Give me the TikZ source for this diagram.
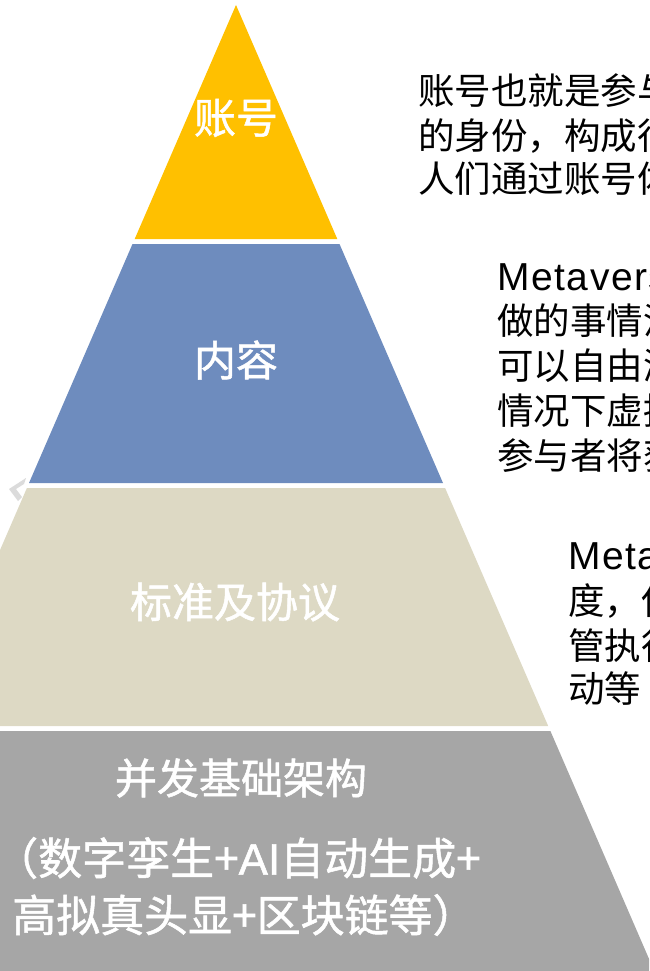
\documentclass[tikz,border=0pt]{standalone}
\usepackage{fontspec}
\setmainfont{Noto Sans CJK SC}
\newfontfamily\cjkb[FakeBold=1.2]{Noto Sans CJK SC}
\newfontfamily\lat[LetterSpace=4]{Liberation Sans}
\newfontfamily\latl[FakeBold=1.2]{Liberation Sans}
\definecolor{cyel}{HTML}{FFC000}
\definecolor{cblu}{HTML}{6E8CBE}
\definecolor{cbei}{HTML}{DDD9C4}
\definecolor{cgry}{HTML}{A6A6A6}
\begin{document}
\begin{tikzpicture}[x=1pt,y=-1pt,
  lab/.style={text=white,inner sep=0pt,font=\fontsize{42}{50}\selectfont\cjkb},
  bigl/.style={text=white,inner sep=0pt,anchor=west,font=\fontsize{44}{52}\selectfont\cjkb},
  desc/.style={text=black,inner sep=0pt,anchor=base west,font=\fontsize{36.5}{44}\selectfont},
  lati/.style={text=black,inner sep=0pt,anchor=base west,font=\fontsize{39}{44}\selectfont\lat}]
\useasboundingbox (0,0) rectangle (649,971);
\clip (0,0) rectangle (649,971);
% layers
\fill[cyel] (236,5) -- (134.7,239) -- (337.3,239) -- cycle;
\fill[cblu] (132.5,244) -- (339.5,244) -- (443,483) -- (29,483) -- cycle;
\fill[cbei] (26.9,488) -- (445.1,488) -- (548.2,726) -- (-76.2,726) -- cycle;
\fill[cgry] (-78.4,731) -- (550.4,731) -- (656,975) -- (-184,975) -- cycle;
% small chevron mark
\fill[black!14] (26,478) -- (9,489) -- (18,501) -- (22,497) -- (16,489) -- (24,484) -- cycle;
% labels in pyramid
\node[lab] (l1) at (236,118) {账号};
\node[lab] (l2) at (236,360) {内容};
\node[lab] (l3) at (235,602) {标准及协议};
\node[lab] (l4) at (241,778) {并发基础架构};
\node[bigl] (l5) at (-6,858) {（数字孪生+{\latl AI}自动生成+};
\node[bigl] (l6) at (12,915) {高拟真头显+区块链等）};
% descriptions
\node[desc] (a1) at (418,105) {账号也就是参与};
\node[desc] (a2) at (418,149) {的身份，构成行};
\node[desc] (a3) at (418,192) {人们通过账号体};
\node[lati] (b1) at (497,290) {Metaverse};
\node[desc] (b2) at (497,334) {做的事情没};
\node[desc] (b3) at (497,379) {可以自由游};
\node[desc] (b4) at (497,424) {情况下虚拟};
\node[desc] (b5) at (497,469) {参与者将获};
\node[lati] (c1) at (568,569) {Metav};
\node[desc] (c2) at (568,614) {度，使};
\node[desc] (c3) at (568,659) {管执行};
\node[desc] (c4) at (568,702) {动等};
\end{tikzpicture}
\end{document}
